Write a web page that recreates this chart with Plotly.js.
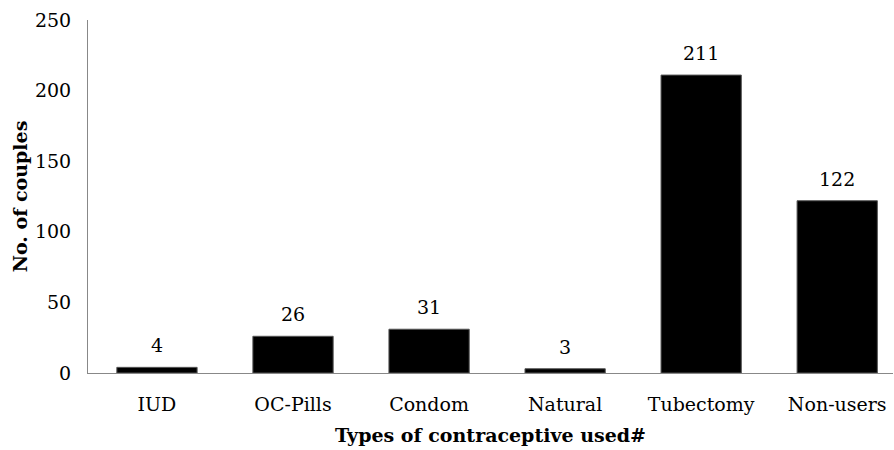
<!DOCTYPE html>
<html><head><meta charset="utf-8">
<script src="https://cdn.plot.ly/plotly-3.0.1.min.js"></script>
<style>html,body{margin:0;padding:0;background:#fff}</style>
</head><body>
<div id="chart" style="width:894px;height:450px"></div>
<script>
const categories = ["IUD", "OC-Pills", "Condom", "Natural", "Tubectomy", "Non-users"];
const couples = [4, 26, 31, 3, 211, 122];
const yTicks = [0, 50, 100, 150, 200, 250];

const font = "DejaVu Serif, Liberation Serif, serif";
Plotly.newPlot("chart", [{
  type: "bar",
  x: categories,
  y: couples,
  width: 0.59,
  marker: {color: "#000", line: {color: "#555", width: 1}},
  hoverinfo: "skip"
}], {
  width: 894, height: 450,
  margin: {l: 88, r: 1, t: 20, b: 77, pad: 0},
  paper_bgcolor: "#fff", plot_bgcolor: "#fff",
  showlegend: false,
  annotations: categories.map((c, i) => ({
    x: c, y: couples[i], xref: "x", yref: "y",
    text: String(couples[i]), showarrow: false,
    yanchor: "bottom", yshift: 9,
    font: {family: font, size: 19, color: "#000"}
  })),
  xaxis: {
    range: [-0.507, 5.41],
    showgrid: false, zeroline: false,
    showline: true, linecolor: "#888", linewidth: 1,
    ticks: "", ticklabelstandoff: 14,
    tickfont: {family: font, size: 19, color: "#000"},
    title: {text: "Types of contraceptive used#", font: {family: font, size: 19, color: "#000", weight: "bold"}, standoff: 14}
  },
  yaxis: {
    range: [0, 250],
    tickvals: yTicks,
    showgrid: false, zeroline: false,
    showline: true, linecolor: "#888", linewidth: 1,
    ticks: "", ticklabelstandoff: 12,
    tickfont: {family: font, size: 19, color: "#000"},
    title: {text: "No. of couples", font: {family: font, size: 19, color: "#000", weight: "bold"}, standoff: 2}
  }
}, {displayModeBar: false, staticPlot: true});
</script>
</body></html>
